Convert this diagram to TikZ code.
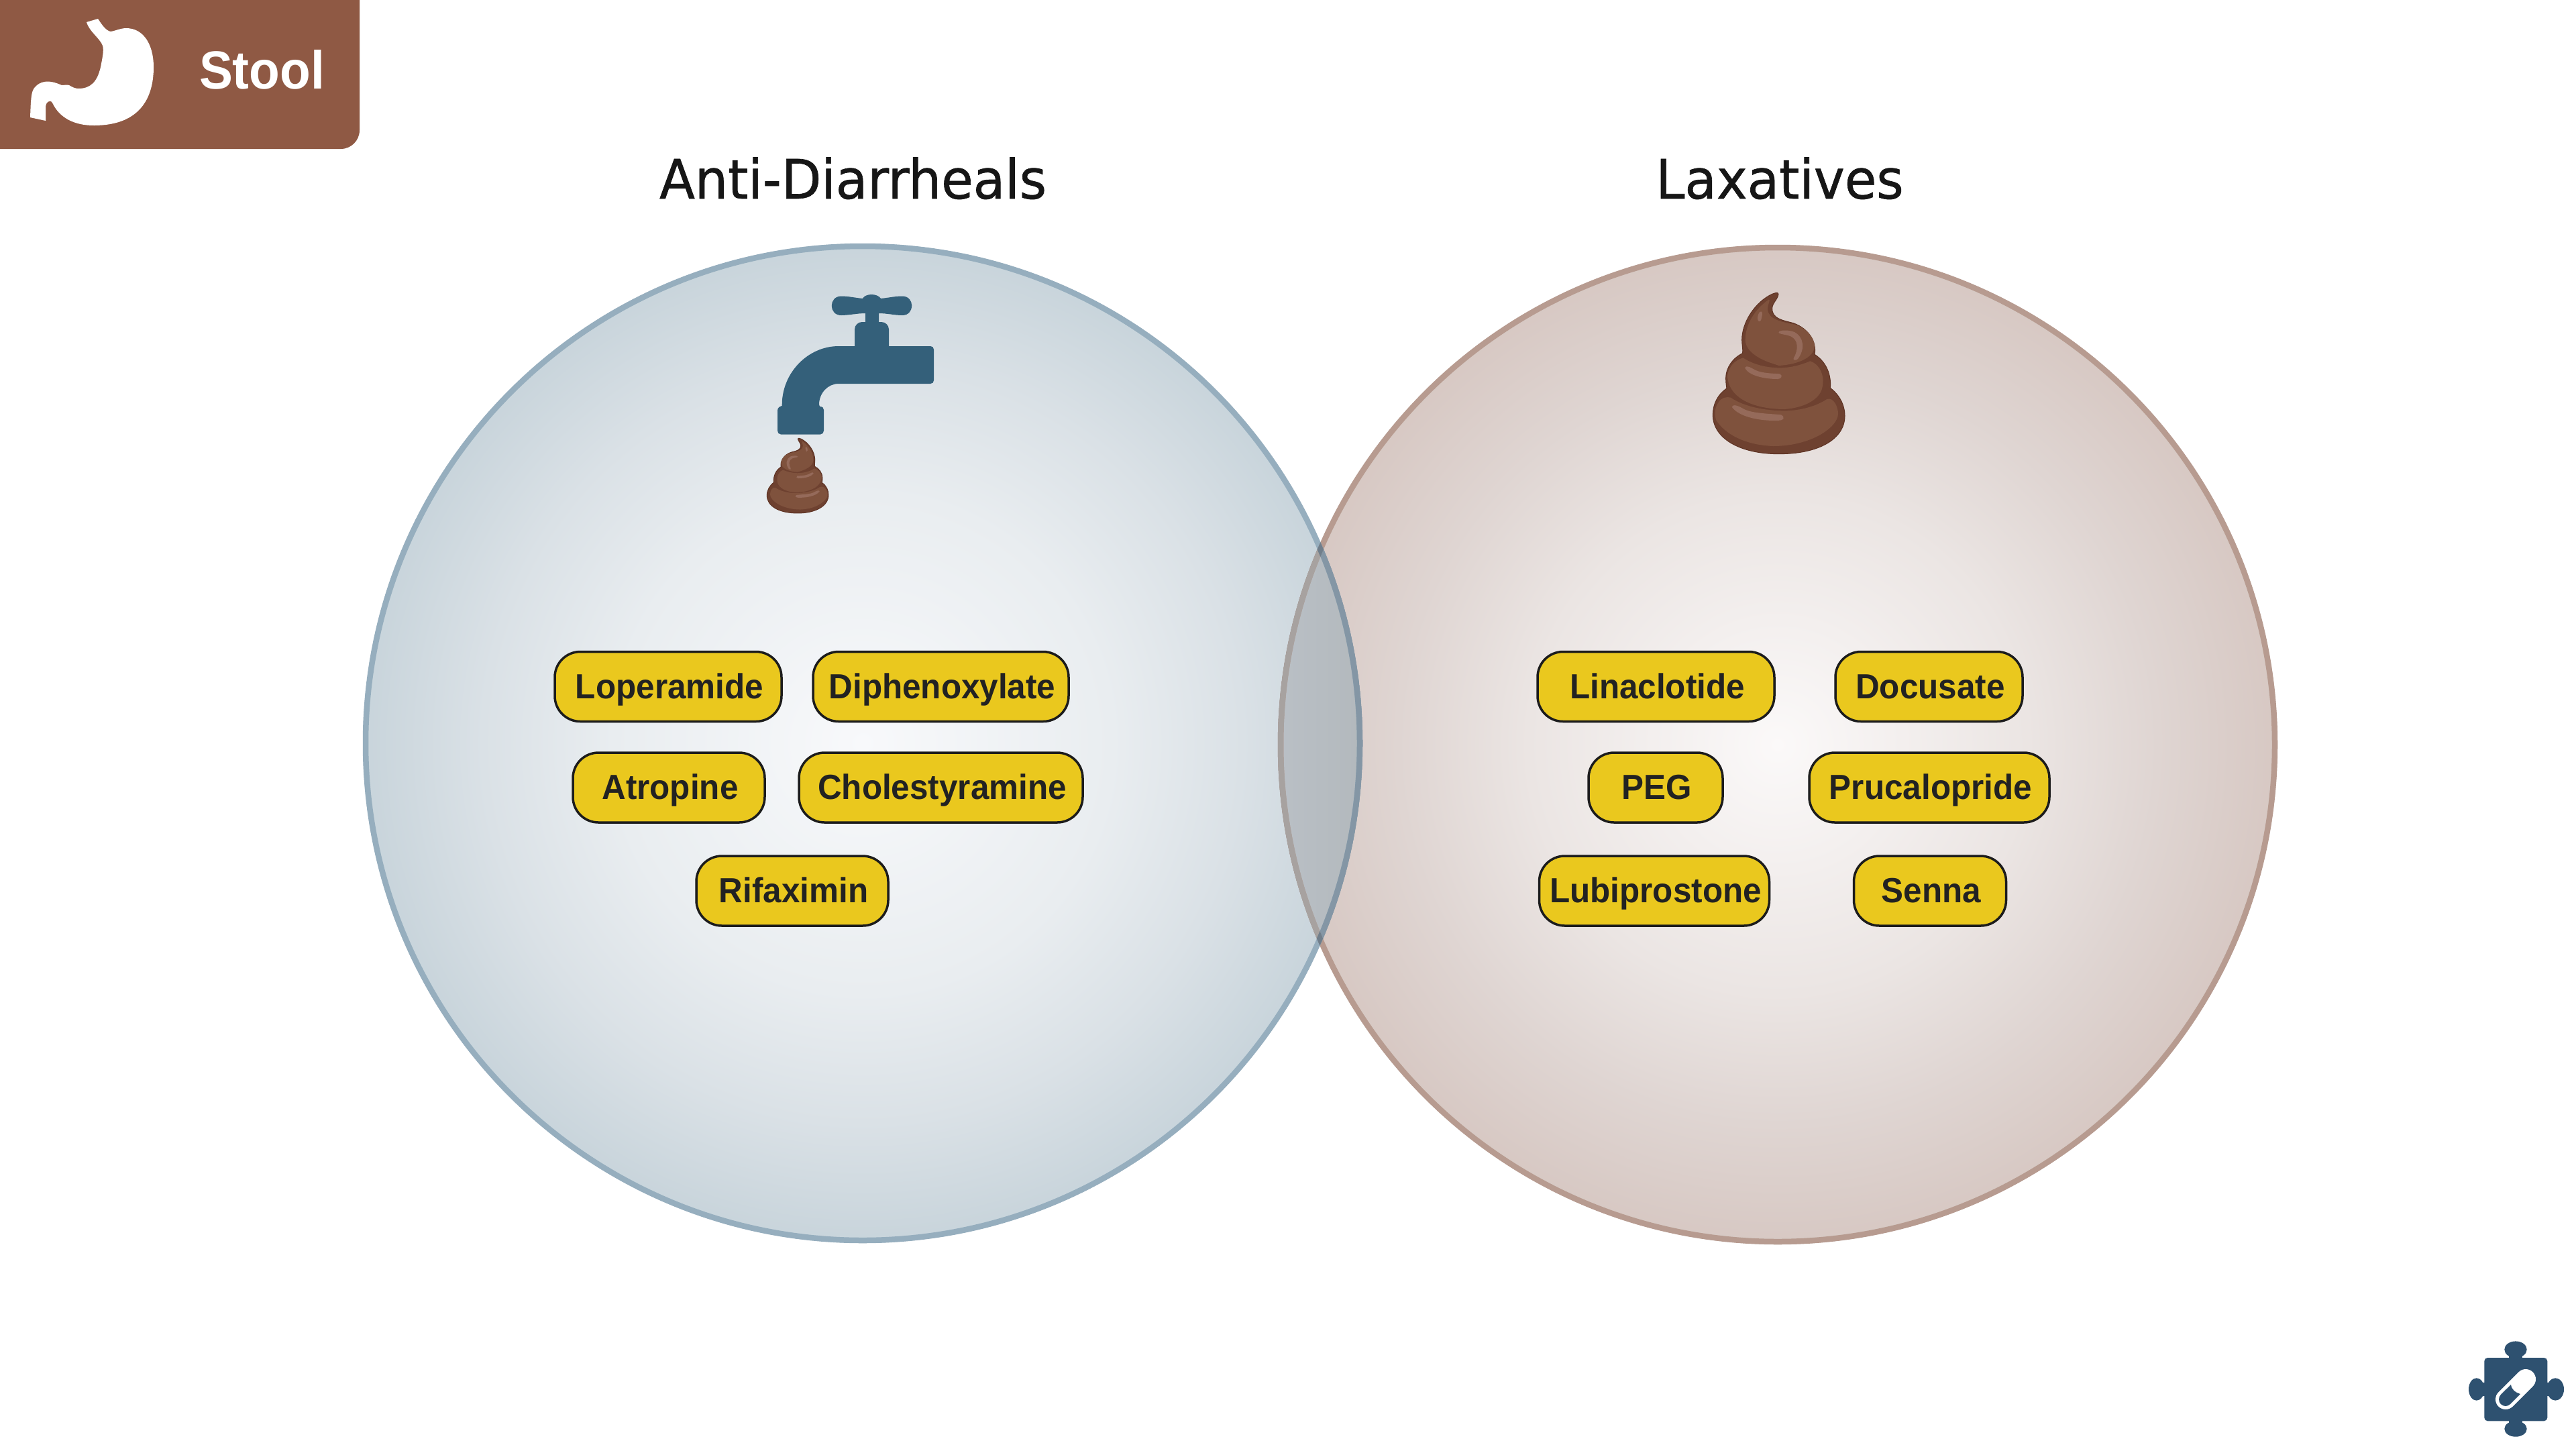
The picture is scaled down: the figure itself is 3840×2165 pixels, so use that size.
\documentclass[tikz,border=0pt]{standalone}
\usepackage{fontspec}
\setmainfont{Liberation Sans}
\newfontfamily\pillfont{Liberation Sans}[FakeStretch=0.95]
\newfontfamily\stoolfont{Liberation Sans}[FakeStretch=0.935]
\newfontfamily\titlefont{DejaVu Sans}[FakeStretch=0.955,FakeBold=0.8]
\definecolor{hdr}{HTML}{8F5944}
\definecolor{pillfill}{HTML}{EAC81E}
\definecolor{pillline}{HTML}{1C1C1C}
\definecolor{pilltext}{HTML}{222222}
\definecolor{tap}{HTML}{34607A}
\definecolor{lstroke}{HTML}{96AEBE}
\definecolor{rstroke}{HTML}{B79B90}
\definecolor{lstrokein}{HTML}{8496A5}
\definecolor{rstrokein}{HTML}{A7A2A0}
\definecolor{crossing}{HTML}{707E8B}
\definecolor{lensl}{HTML}{BAC0C6}
\definecolor{lensr}{HTML}{B2B8BC}
\definecolor{pzl}{HTML}{2E5170}
\definecolor{poopdark}{HTML}{6E4130}
\definecolor{poopline}{HTML}{5E3324}
\definecolor{poopmid}{HTML}{7F523D}
\definecolor{pooplight}{HTML}{956A5A}
\definecolor{titlecol}{HTML}{161616}
\definecolor{lcenter}{HTML}{F8F9FB}
\definecolor{lmida}{HTML}{E9EDF0}
\definecolor{lmidb}{HTML}{DAE1E6}
\definecolor{ledge}{HTML}{C8D4DB}
\definecolor{rcenter}{HTML}{FBF9F9}
\definecolor{rmida}{HTML}{EBE5E3}
\definecolor{rmidb}{HTML}{DFD5D2}
\definecolor{redge}{HTML}{D7C8C3}
\pgfdeclareradialshading{leftshade}{\pgfpointorigin}{color(0bp)=(lcenter); color(12.5bp)=(lmida); color(19bp)=(lmidb); color(25bp)=(ledge); color(50bp)=(ledge)}
\pgfdeclareradialshading{rightshade}{\pgfpointorigin}{color(0bp)=(rcenter); color(12.5bp)=(rmida); color(19bp)=(rmidb); color(25bp)=(redge); color(50bp)=(redge)}
\tikzset{
  pill/.style={draw=pillline,fill=pillfill,line width=.35mm,rounded corners=3.8mm,
    minimum height=10.4mm,inner sep=0pt,text height=3.5mm,text depth=0pt,
    text=pilltext,font=\pillfont\bfseries\fontsize{14.8pt}{18pt}\selectfont,
    execute at begin node=\hspace*{.4mm}},
  titlenode/.style={anchor=base,text=titlecol,inner sep=0pt,font=\titlefont\fontsize{23.05pt}{28pt}\selectfont},
}
\newcommand{\poopshape}{%
  \filldraw[fill=poopdark,draw=poopline,line width=.1mm]
    (222,537) .. controls (180,565) and (160,610) .. (160,655)
    .. controls (160,760) and (280,830) .. (455,830)
    .. controls (640,830) and (750,760) .. (750,660)
    .. controls (750,610) and (725,565) .. (685,535)
    .. controls (690,480) and (670,420) .. (615,385)
    .. controls (625,330) and (590,270) .. (520,245)
    .. controls (470,232) and (425,225) .. (425,180)
    .. controls (425,155) and (450,140) .. (453,115)
    .. controls (450,105) and (440,110) .. (425,115)
    .. controls (350,150) and (290,240) .. (290,320)
    .. controls (290,340) and (295,360) .. (293,380)
    .. controls (250,400) and (218,445) .. (218,490)
    .. controls (218,510) and (220,525) .. (222,537) -- cycle;
  \fill[poopmid]
    (185,600) .. controls (195,580) and (220,572) .. (240,578)
    .. controls (300,620) and (400,637) .. (480,637)
    .. controls (560,637) and (630,612) .. (670,585)
    .. controls (700,575) and (720,620) .. (720,650)
    .. controls (720,710) and (600,795) .. (430,795)
    .. controls (300,790) and (215,740) .. (175,680)
    .. controls (165,650) and (170,620) .. (185,600) -- cycle;
  \fill[poopmid]
    (225,480) .. controls (230,440) and (260,410) .. (295,400)
    .. controls (340,430) and (400,445) .. (460,445)
    .. controls (510,445) and (560,430) .. (595,415)
    .. controls (640,430) and (660,480) .. (650,530)
    .. controls (640,590) and (560,625) .. (480,630)
    .. controls (360,630) and (230,590) .. (225,480) -- cycle;
  \fill[poopmid]
    (410,140) .. controls (350,180) and (305,250) .. (305,320)
    .. controls (305,350) and (330,390) .. (410,420)
    -- (455,435) .. controls (540,430) and (610,400) .. (615,350)
    .. controls (615,310) and (580,270) .. (530,252)
    .. controls (470,240) and (405,230) .. (405,180)
    .. controls (405,160) and (420,140) .. (410,140) -- cycle;
  \fill[pooplight]
    (303,445) .. controls (310,430) and (330,445) .. (350,455)
    .. controls (380,470) and (430,470) .. (460,472)
    .. controls (475,480) and (465,495) .. (450,495)
    .. controls (390,495) and (320,480) .. (303,445) -- cycle;
  \fill[pooplight]
    (245,620) .. controls (250,605) and (275,615) .. (300,630)
    .. controls (340,650) and (420,650) .. (465,655)
    .. controls (485,665) and (475,680) .. (460,680)
    .. controls (390,685) and (280,670) .. (245,620) -- cycle;
  \fill[pooplight]
    (455,285) .. controls (460,275) and (500,275) .. (525,285)
    .. controls (565,305) and (575,360) .. (540,405)
    .. controls (530,415) and (515,410) .. (522,400)
    .. controls (545,360) and (540,320) .. (510,305)
    .. controls (490,295) and (450,295) .. (455,285) -- cycle;
  \fill[pooplight]
    (370,195) .. controls (378,190) and (385,195) .. (378,220)
    .. controls (375,245) and (360,240) .. (360,225)
    .. controls (360,210) and (365,200) .. (370,195) -- cycle;
}
\begin{document}
\begin{tikzpicture}[x=0.1mm,y=-0.1mm]
\useasboundingbox (0,0) rectangle (3840,2165);
\fill[white] (0,0) rectangle (3840,2165);
% header
\fill[hdr] (0,0) -- (536,0) [rounded corners=2.8mm] -- (536,222) [sharp corners] -- (0,222) -- cycle;
\fill[white]
  (129,33) -- (146,28) .. controls (152,37) and (158,46) .. (165,47)
  .. controls (172,46) and (180,42) .. (188,42)
  .. controls (215,42) and (229,68) .. (229,100)
  .. controls (229,150) and (205,187) .. (140,187)
  .. controls (110,187) and (88,175) .. (78,153)
  .. controls (77,149) and (68,150) .. (68,160)
  -- (68,180) -- (45,175)
  .. controls (46,150) and (46,136) .. (52,130)
  .. controls (60,121) and (72,118) .. (92,127)
  .. controls (96,127) and (100,126) .. (103,127)
  .. controls (108,130) and (112,132) .. (117,132)
  .. controls (135,132) and (145,122) .. (150,100)
  .. controls (153,85) and (155,75) .. (153,68)
  .. controls (149,57) and (133,47) .. (129,33) -- cycle;
\node[anchor=base,text=white,inner sep=0pt,font=\stoolfont\bfseries\fontsize{22.76pt}{28pt}\selectfont] (stool) at (390.5,132.5) {Stool};
% titles
\node[titlenode] (tleft) at (1271.5,296) {Anti-Diarrheals};
\node[titlenode] (tright) at (2653,296) {Laxatives};
% circles
\coordinate (cl) at (1286,1108);
\coordinate (cr) at (2650,1110);
\path[shading=rightshade] (cr) circle (745);
\path[shading=leftshade] (cl) circle (745);
\begin{scope}
  \clip (cl) circle (745);
  \clip (cr) circle (745);
  \fill[left color=lensl,right color=lensr] (1900,800) rectangle (2040,1420);
\end{scope}
\draw[rstroke,line width=.85mm] (cr) circle (741);
\draw[lstroke,line width=.85mm] (cl) circle (741);
\begin{scope}
  \clip (cr) circle (745);
  \draw[lstrokein,line width=.85mm] (cl) circle (741);
\end{scope}
\begin{scope}
  \clip (cl) circle (745);
  \draw[rstrokein,line width=.85mm] (cr) circle (741);
\end{scope}
\begin{scope}[even odd rule]
  \clip (cl) circle (745) (cl) circle (736.5);
  \draw[crossing,line width=.85mm] (cr) circle (741);
\end{scope}
% faucet
\fill[tap]
  (1254,441.5) .. controls (1265,441.5) and (1275,444) .. (1286,445)
  .. controls (1290,437) and (1308,437) .. (1313,445)
  .. controls (1324,444) and (1334,441.5) .. (1345,441.5)
  .. controls (1364,441.5) and (1364,470) .. (1345,470)
  .. controls (1334,470) and (1322,467) .. (1310,467)
  -- (1310,480) -- (1314,480) .. controls (1320,480) and (1325,485) .. (1325,491)
  -- (1325,516) -- (1387,516) .. controls (1390,516) and (1392,518) .. (1392,521)
  -- (1392,567) .. controls (1392,570) and (1390,572) .. (1387,572)
  -- (1250,572) .. controls (1234,572) and (1221,586) .. (1221,603)
  -- (1222,606) .. controls (1226,606) and (1228,608) .. (1228,611)
  -- (1228,642) .. controls (1228,645) and (1226,647.5) .. (1223,647.5)
  -- (1164,647.5) .. controls (1161,647.5) and (1159,645) .. (1159,642)
  -- (1159,612) .. controls (1159,608) and (1162,606) .. (1165.5,605)
  -- (1165.7,603) .. controls (1166,555) and (1205,516) .. (1250,516)
  -- (1274,516) -- (1274,491) .. controls (1274,485) and (1279,480) .. (1285,480)
  -- (1290,480) -- (1290,467)
  .. controls (1278,467) and (1265,470) .. (1254,470)
  .. controls (1235,470) and (1235,441.5) .. (1254,441.5) -- cycle;
% droppings
\begin{scope}[shift={(1259.8,636.3)},xscale=-0.1553,yscale=0.155]
  \poopshape
\end{scope}
\begin{scope}[shift={(2500,400)},scale=0.33333]
  \poopshape
\end{scope}
% pills
\node[pill,minimum width=33.8mm] (lop) at (996,1023.5)  {Loperamide};
\node[pill,minimum width=38.1mm] (dip) at (1402.5,1023.5) {Diphenoxylate};
\node[pill,minimum width=28.6mm] (atr) at (997,1174)    {Atropine};
\node[pill,minimum width=42.3mm] (cho) at (1402.5,1174) {Cholestyramine};
\node[pill,minimum width=28.6mm] (rif) at (1181,1328)   {Rifaximin};
\node[pill,minimum width=35.3mm] (lin) at (2468.5,1023.5) {Linaclotide};
\node[pill,minimum width=27.9mm] (doc) at (2875.5,1023.5) {Docusate};
\node[pill,minimum width=20mm]   (peg) at (2468,1174)   {PEG};
\node[pill,minimum width=35.8mm] (pru) at (2876,1174)   {Prucalopride};
\node[pill,minimum width=34.3mm] (lub) at (2466,1328) {Lubiprostone};
\node[pill,minimum width=22.7mm] (sen) at (2877,1328) {Senna};
% puzzle icon
\fill[pzl,rounded corners=.5mm] (3703.3,2024) rectangle (3797.3,2118.3);
\fill[pzl] (3750,2011.7) ellipse [x radius=16.7,y radius=12.3];
\fill[pzl] (3750,2130) ellipse [x radius=16.7,y radius=11.7];
\fill[pzl] (3691.7,2071) ellipse [x radius=11.7,y radius=16.7];
\fill[pzl] (3809.3,2071) ellipse [x radius=12.7,y radius=16.7];
\fill[pzl] (3740,2018) rectangle (3760,2026);
\fill[pzl] (3740,2116) rectangle (3760,2124);
\fill[pzl] (3697,2061) rectangle (3705,2081);
\fill[pzl] (3795,2061) rectangle (3803,2081);
\draw[white,line width=3mm,line cap=round] (3735,2086) -- (3765,2056);
\fill[pzl] (3743,2064) .. controls (3744,2072) and (3750,2076) .. (3757,2078)
  -- (3742.07,2093.07) .. controls (3738.17,2096.97) and (3731.83,2096.97) .. (3727.93,2093.07)
  .. controls (3724.03,2089.17) and (3724.03,2082.83) .. (3727.93,2078.93) -- cycle;
\end{tikzpicture}
\end{document}
